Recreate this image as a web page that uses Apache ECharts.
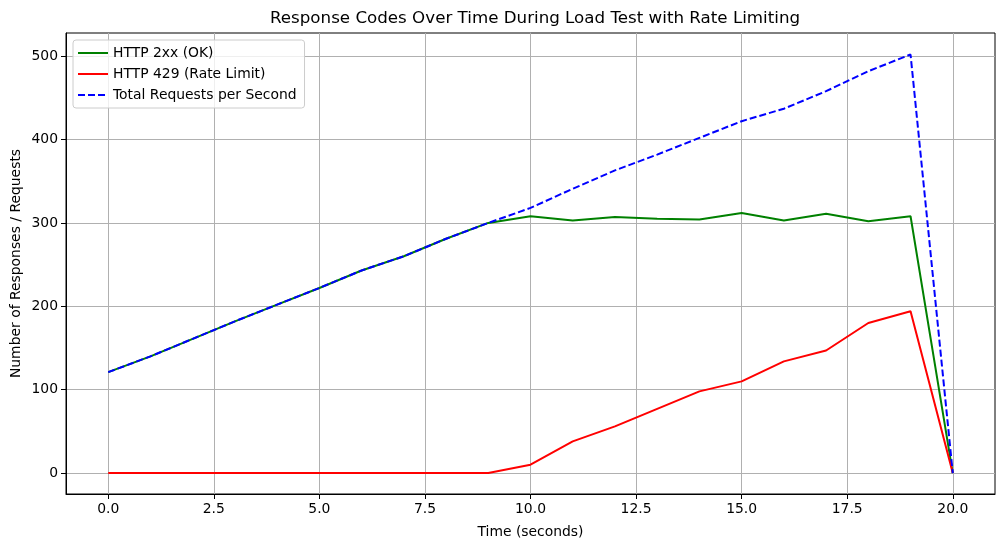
<!DOCTYPE html>
<html>
<head>
<meta charset="utf-8">
<script src="https://cdn.jsdelivr.net/npm/echarts@6/dist/echarts.min.js"></script>
<style>
html,body{margin:0;padding:0;background:#fff;}
#chart{width:1005px;height:547px;}
</style>
</head>
<body>
<div id="chart"></div>
<script>
const seconds = [0,1,2,3,4,5,6,7,8,9,10,11,12,13,14,15,16,17,18,19,20];
const ok2xx = [121,140,161,182,202,222,243,260,281,300,308,303,307,305,304,312,303,311,302,308,0];
const rate429 = [0,0,0,0,0,0,0,0,0,0,10,38,56,77,98,110,134,147,180,194,0];
const totalRps = [121,140,161,182,202,222,243,260,281,300,318,341,363,382,402,422,437,458,482,502,0];
const xTicks = [0,2.5,5,7.5,10,12.5,15,17.5,20];
const yTicks = [0,100,200,300,400,500];

const pairs = arr => seconds.map((s,i)=>[s,arr[i]]);
const font = 'DejaVu Sans';
const chart = echarts.init(document.getElementById('chart'));
chart.setOption({
  animation:false,
  textStyle:{fontFamily:font},
  title:{text:'Response Codes Over Time During Load Test with Rate Limiting',left:530,top:5,textAlign:'center',
    textStyle:{fontFamily:font,fontSize:16.7,fontWeight:'normal',color:'#000'}},
  grid:{left:66,right:10,top:33,bottom:53,outerBoundsMode:'none',containLabel:false,show:true,borderColor:'#000',borderWidth:1,backgroundColor:'transparent'},
  legend:{orient:'vertical',left:73,top:40,itemWidth:30,itemHeight:10,itemGap:7,
    padding:[6,8,6,4],backgroundColor:'rgba(255,255,255,0.8)',borderColor:'#cccccc',borderWidth:1,borderRadius:3,
    itemStyle:{opacity:0},
    textStyle:{fontFamily:font,fontSize:13.9,color:'#000'},
    data:['HTTP 2xx (OK)','HTTP 429 (Rate Limit)','Total Requests per Second']},
  xAxis:{type:'value',min:-1,max:21,
    name:'Time (seconds)',nameLocation:'middle',nameGap:31,nameMoveOverlap:false,nameTextStyle:{fontFamily:font,fontSize:13.9,color:'#000'},
    axisLine:{show:true,onZero:false,lineStyle:{color:'#000'}},
    axisTick:{show:true,length:5,customValues:xTicks,lineStyle:{color:'#000'}},
    axisLabel:{customValues:xTicks,formatter:v=>v.toFixed(1),fontSize:13.9,color:'#000',fontFamily:font,margin:8},
    splitLine:{show:true,lineStyle:{color:'#b0b0b0',width:1}}},
  yAxis:{type:'value',min:-25.1,max:527.8,
    name:'Number of Responses / Requests',nameLocation:'middle',nameGap:43,nameMoveOverlap:false,nameTextStyle:{fontFamily:font,fontSize:13.9,color:'#000'},
    axisLine:{show:true,onZero:false,lineStyle:{color:'#000'}},
    axisTick:{show:true,length:5,customValues:yTicks,lineStyle:{color:'#000'}},
    axisLabel:{customValues:yTicks,formatter:v=>String(v),fontSize:13.9,color:'#000',fontFamily:font,margin:8},
    splitLine:{show:true,lineStyle:{color:'#b0b0b0',width:1}}},
  series:[
    {name:'HTTP 2xx (OK)',type:'line',data:pairs(ok2xx),symbol:'none',showSymbol:false,
      itemStyle:{color:'#008000'},lineStyle:{color:'#008000',width:2}},
    {name:'HTTP 429 (Rate Limit)',type:'line',data:pairs(rate429),symbol:'none',showSymbol:false,
      itemStyle:{color:'#ff0000'},lineStyle:{color:'#ff0000',width:2}},
    {name:'Total Requests per Second',type:'line',data:pairs(totalRps),symbol:'none',showSymbol:false,
      itemStyle:{color:'#0000ff'},lineStyle:{color:'#0000ff',width:2,type:[7,3]}}
  ]
});
</script>
</body>
</html>
